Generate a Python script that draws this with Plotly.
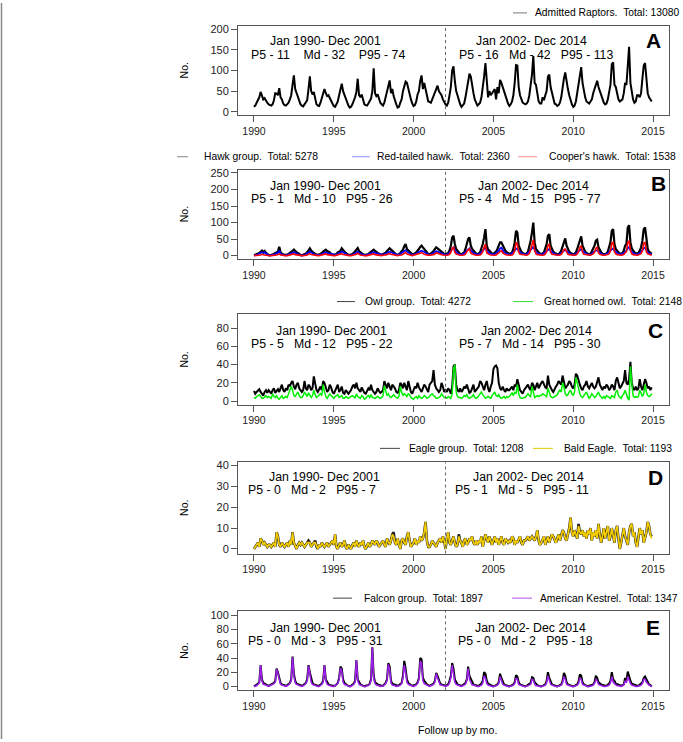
"""
Monthly admissions of raptors, Jan 1990 - Dec 2014, five stacked panels
(all raptors, hawks, owls, eagles, falcons).
"""
import plotly.graph_objects as go
from plotly.subplots import make_subplots

W, H = 683, 742
FONT = "Liberation Sans, Arial, sans-serif"

years = list(range(1990, 2015))
year_ticks = [1990, 1995, 2000, 2005, 2010, 2015]
period_break = 2002

# ---- monthly counts, one row per year (Jan..Dec) ----
admitted = [
    [12, 15, 22, 28, 35, 48, 40, 30, 33, 26, 22, 18],
    [16, 15, 18, 28, 45, 44, 40, 57, 35, 30, 20, 16],
    [15, 18, 22, 30, 40, 65, 88, 55, 45, 40, 25, 18],
    [15, 13, 18, 25, 28, 55, 86, 50, 42, 48, 28, 18],
    [15, 14, 22, 35, 48, 55, 45, 38, 40, 32, 24, 20],
    [14, 12, 18, 25, 40, 55, 68, 50, 40, 30, 20, 15],
    [10, 12, 18, 26, 35, 48, 80, 40, 35, 42, 28, 18],
    [16, 15, 20, 28, 32, 50, 105, 45, 38, 42, 28, 22],
    [18, 15, 22, 35, 48, 65, 76, 45, 55, 38, 25, 18],
    [10, 12, 22, 30, 50, 65, 73, 70, 55, 45, 30, 20],
    [14, 16, 25, 42, 50, 75, 88, 55, 70, 55, 40, 25],
    [24, 22, 30, 40, 45, 55, 63, 50, 45, 40, 30, 22],
    [18, 15, 22, 40, 60, 100, 110, 75, 50, 40, 25, 18],
    [12, 15, 20, 35, 55, 80, 92, 85, 60, 45, 30, 20],
    [15, 18, 22, 35, 55, 85, 118, 70, 35, 50, 40, 45],
    [50, 55, 30, 60, 45, 77, 70, 60, 45, 35, 25, 20],
    [14, 18, 25, 40, 70, 113, 112, 60, 40, 30, 22, 20],
    [18, 20, 25, 40, 60, 90, 135, 70, 65, 40, 25, 20],
    [20, 35, 28, 40, 50, 85, 90, 60, 45, 30, 20, 18],
    [14, 16, 22, 35, 60, 80, 95, 70, 55, 40, 25, 18],
    [12, 15, 25, 45, 60, 85, 108, 70, 50, 35, 25, 22],
    [20, 25, 30, 45, 55, 70, 75, 60, 50, 40, 30, 22],
    [18, 20, 30, 45, 65, 115, 120, 65, 60, 45, 30, 25],
    [28, 30, 45, 70, 65, 105, 157, 70, 45, 30, 22, 25],
    [40, 40, 35, 45, 80, 112, 118, 70, 45, 35, 28, 25],
]

hawk_group = [
    [1, 2, 4, 6, 8, 12, 15, 10, 14, 8, 4, 2],
    [1, 2, 3, 5, 8, 10, 12, 27, 10, 6, 3, 2],
    [2, 3, 5, 8, 10, 14, 18, 12, 10, 8, 4, 2],
    [1, 2, 4, 6, 10, 15, 22, 15, 10, 8, 5, 3],
    [2, 3, 5, 8, 12, 16, 18, 14, 12, 10, 5, 3],
    [2, 3, 5, 10, 12, 14, 22, 15, 12, 8, 4, 2],
    [2, 3, 5, 8, 12, 16, 23, 14, 10, 8, 4, 2],
    [2, 3, 5, 8, 12, 15, 18, 14, 12, 8, 5, 3],
    [3, 4, 6, 9, 14, 18, 22, 18, 14, 10, 6, 3],
    [3, 4, 8, 12, 18, 28, 35, 20, 15, 12, 8, 4],
    [5, 6, 10, 14, 20, 26, 30, 25, 20, 15, 8, 5],
    [4, 6, 10, 14, 20, 25, 22, 18, 15, 12, 8, 5],
    [4, 5, 8, 15, 30, 55, 60, 35, 20, 15, 8, 5],
    [4, 6, 10, 20, 35, 50, 55, 30, 20, 15, 10, 6],
    [5, 6, 10, 20, 35, 55, 80, 30, 18, 15, 10, 6],
    [5, 8, 12, 20, 30, 40, 40, 30, 20, 15, 10, 6],
    [5, 6, 10, 20, 40, 75, 70, 30, 18, 12, 8, 5],
    [5, 6, 12, 25, 45, 70, 100, 40, 20, 15, 10, 6],
    [5, 6, 10, 20, 35, 60, 65, 30, 18, 12, 8, 5],
    [4, 5, 8, 15, 30, 45, 52, 30, 18, 12, 8, 5],
    [4, 5, 10, 20, 35, 50, 58, 30, 18, 12, 8, 5],
    [4, 5, 12, 20, 30, 45, 48, 25, 15, 10, 6, 4],
    [5, 6, 12, 25, 40, 75, 80, 35, 20, 15, 10, 6],
    [6, 8, 15, 30, 35, 85, 92, 40, 22, 15, 10, 6],
    [6, 8, 15, 25, 45, 80, 85, 40, 20, 12, 8, 5],
]

red_tailed = [
    [1, 1, 2, 4, 6, 8, 10, 8, 10, 6, 3, 1],
    [1, 1, 2, 3, 5, 6, 8, 15, 6, 4, 2, 1],
    [1, 2, 3, 5, 6, 8, 10, 8, 6, 5, 3, 1],
    [1, 1, 2, 4, 6, 8, 12, 10, 6, 5, 3, 2],
    [1, 2, 3, 5, 8, 10, 10, 8, 7, 6, 3, 2],
    [1, 2, 3, 6, 8, 9, 12, 10, 7, 5, 3, 1],
    [1, 2, 3, 5, 7, 10, 12, 8, 6, 5, 2, 1],
    [1, 2, 3, 5, 7, 9, 10, 8, 7, 5, 3, 2],
    [2, 2, 4, 5, 8, 10, 12, 10, 8, 6, 4, 2],
    [2, 3, 5, 7, 10, 14, 16, 12, 9, 7, 5, 2],
    [3, 4, 6, 8, 11, 14, 15, 13, 11, 8, 5, 3],
    [2, 3, 6, 8, 11, 13, 12, 10, 8, 7, 5, 3],
    [2, 3, 5, 8, 14, 22, 25, 18, 10, 8, 5, 3],
    [2, 4, 6, 10, 15, 20, 22, 15, 10, 8, 6, 4],
    [3, 4, 6, 10, 15, 20, 25, 15, 10, 8, 6, 4],
    [3, 5, 7, 10, 15, 22, 24, 15, 10, 8, 6, 4],
    [3, 4, 6, 10, 15, 22, 20, 14, 10, 7, 5, 3],
    [3, 4, 7, 12, 18, 22, 26, 18, 10, 8, 6, 4],
    [3, 4, 6, 10, 14, 18, 20, 14, 10, 7, 5, 3],
    [2, 3, 5, 8, 12, 16, 18, 14, 10, 7, 5, 3],
    [2, 3, 6, 10, 14, 18, 20, 14, 10, 7, 5, 3],
    [2, 3, 6, 10, 13, 16, 16, 12, 9, 6, 4, 2],
    [3, 4, 7, 12, 16, 20, 22, 15, 10, 8, 6, 4],
    [4, 5, 8, 12, 15, 22, 26, 16, 11, 8, 6, 4],
    [3, 5, 8, 12, 16, 22, 24, 16, 10, 7, 5, 3],
]

coopers = [
    [0, 0, 0, 1, 1, 2, 4, 2, 2, 1, 0, 0],
    [0, 0, 0, 1, 1, 2, 3, 5, 2, 1, 0, 0],
    [0, 0, 1, 1, 2, 3, 5, 3, 2, 1, 0, 0],
    [0, 0, 0, 1, 2, 4, 6, 3, 2, 1, 1, 0],
    [0, 0, 1, 1, 2, 4, 5, 3, 2, 2, 1, 0],
    [0, 0, 1, 1, 2, 3, 6, 3, 2, 1, 0, 0],
    [0, 0, 1, 1, 2, 4, 7, 3, 2, 1, 0, 0],
    [0, 0, 1, 1, 2, 3, 5, 3, 2, 1, 1, 0],
    [0, 1, 1, 2, 3, 5, 6, 4, 3, 2, 1, 0],
    [0, 1, 1, 2, 4, 8, 10, 5, 3, 2, 1, 0],
    [1, 1, 2, 3, 5, 7, 9, 6, 4, 3, 1, 1],
    [1, 1, 2, 3, 5, 8, 7, 5, 4, 3, 2, 1],
    [1, 1, 2, 4, 10, 22, 25, 10, 5, 3, 2, 1],
    [1, 1, 2, 5, 12, 18, 20, 8, 5, 3, 2, 1],
    [1, 1, 2, 5, 12, 25, 35, 8, 4, 3, 2, 1],
    [1, 1, 2, 4, 8, 12, 15, 8, 5, 3, 2, 1],
    [1, 1, 2, 5, 15, 40, 35, 10, 4, 3, 2, 1],
    [1, 1, 3, 6, 18, 35, 48, 15, 5, 3, 2, 1],
    [1, 1, 2, 5, 12, 30, 35, 10, 4, 3, 2, 1],
    [1, 1, 2, 4, 10, 18, 20, 10, 4, 3, 2, 1],
    [1, 1, 2, 5, 12, 25, 30, 10, 4, 3, 2, 1],
    [1, 1, 3, 5, 10, 22, 25, 8, 4, 2, 1, 1],
    [1, 1, 3, 6, 15, 38, 40, 12, 5, 3, 2, 1],
    [1, 2, 3, 8, 12, 40, 45, 15, 5, 3, 2, 1],
    [1, 2, 3, 6, 15, 38, 40, 12, 5, 3, 2, 1],
]

owl_group = [
    [11, 8, 10, 12, 13, 10, 8, 6, 10, 12, 9, 12],
    [10, 8, 12, 14, 9, 11, 13, 10, 15, 18, 12, 10],
    [14, 12, 18, 16, 20, 22, 16, 13, 18, 20, 14, 12],
    [10, 12, 22, 14, 12, 18, 16, 12, 14, 27, 18, 12],
    [10, 14, 16, 12, 22, 20, 14, 10, 12, 18, 15, 10],
    [8, 12, 14, 18, 10, 12, 16, 9, 8, 12, 10, 8],
    [10, 12, 16, 18, 14, 20, 14, 12, 10, 15, 12, 9],
    [8, 11, 14, 12, 18, 12, 10, 8, 10, 14, 11, 9],
    [10, 12, 22, 18, 14, 20, 15, 12, 18, 16, 14, 10],
    [9, 12, 20, 18, 14, 20, 16, 12, 22, 15, 10, 8],
    [12, 16, 14, 20, 15, 12, 10, 14, 18, 16, 12, 10],
    [18, 20, 22, 34, 18, 14, 12, 10, 12, 20, 16, 10],
    [12, 10, 14, 12, 8, 16, 38, 40, 18, 12, 10, 14],
    [10, 12, 16, 14, 18, 12, 9, 10, 14, 18, 10, 12],
    [14, 16, 22, 20, 16, 12, 18, 22, 14, 10, 16, 20],
    [35, 38, 39, 36, 20, 14, 12, 16, 12, 10, 14, 12],
    [12, 14, 16, 12, 18, 16, 24, 18, 12, 10, 8, 12],
    [14, 16, 18, 14, 12, 20, 18, 12, 16, 20, 14, 18],
    [20, 22, 18, 15, 14, 28, 18, 14, 12, 10, 14, 16],
    [18, 22, 20, 18, 28, 20, 14, 16, 18, 22, 20, 16],
    [14, 18, 30, 28, 22, 18, 14, 12, 16, 18, 22, 16],
    [14, 18, 20, 16, 14, 16, 20, 26, 18, 14, 12, 16],
    [14, 18, 16, 12, 14, 18, 16, 12, 22, 26, 18, 14],
    [16, 20, 22, 34, 20, 18, 24, 43, 20, 14, 12, 16],
    [12, 14, 24, 16, 12, 18, 24, 20, 14, 16, 12, 15],
]

great_horned = [
    [4, 3, 5, 6, 7, 5, 3, 3, 4, 6, 4, 5],
    [4, 3, 8, 5, 4, 6, 3, 2, 4, 6, 3, 4],
    [5, 4, 8, 10, 16, 12, 6, 5, 8, 10, 6, 4],
    [4, 6, 10, 8, 5, 9, 6, 4, 6, 12, 7, 4],
    [5, 7, 8, 6, 18, 10, 5, 3, 5, 8, 6, 4],
    [3, 5, 6, 7, 4, 5, 6, 3, 3, 5, 4, 3],
    [4, 5, 6, 5, 3, 8, 5, 4, 3, 6, 5, 2],
    [3, 5, 6, 4, 7, 4, 3, 3, 4, 5, 4, 3],
    [4, 6, 17, 10, 6, 8, 5, 4, 6, 7, 5, 4],
    [3, 5, 16, 10, 6, 8, 7, 5, 8, 7, 4, 3],
    [2, 4, 5, 3, 6, 4, 3, 4, 6, 5, 3, 4],
    [5, 7, 8, 6, 5, 3, 3, 4, 5, 8, 6, 4],
    [4, 3, 5, 4, 3, 8, 35, 40, 10, 5, 4, 4],
    [3, 4, 6, 5, 7, 4, 3, 4, 5, 7, 4, 3],
    [4, 6, 8, 10, 7, 5, 3, 4, 5, 4, 3, 6],
    [8, 10, 6, 5, 7, 4, 3, 4, 5, 3, 5, 4],
    [5, 7, 9, 6, 10, 8, 18, 8, 4, 3, 3, 4],
    [4, 6, 8, 6, 5, 16, 10, 4, 5, 6, 5, 6],
    [6, 8, 7, 6, 5, 14, 8, 5, 4, 4, 5, 6],
    [7, 10, 12, 10, 20, 16, 8, 6, 7, 10, 12, 8],
    [6, 10, 26, 20, 12, 8, 5, 4, 6, 8, 10, 6],
    [3, 5, 8, 6, 4, 5, 8, 10, 6, 4, 3, 5],
    [3, 6, 5, 4, 3, 6, 5, 4, 10, 12, 6, 4],
    [3, 6, 8, 12, 6, 3, 1, 38, 20, 6, 4, 5],
    [4, 5, 12, 8, 5, 8, 18, 10, 6, 5, 6, 8],
]

eagle_group = [
    [0, 1, 2, 3, 1, 5, 4, 2, 3, 2, 1, 2],
    [2, 1, 2, 3, 1, 8, 6, 2, 1, 3, 2, 1],
    [2, 3, 1, 4, 2, 8, 3, 1, 0, 2, 3, 2],
    [3, 2, 1, 2, 3, 4, 3, 1, 2, 3, 4, 1],
    [0, 2, 1, 3, 2, 1, 2, 3, 1, 2, 3, 4],
    [2, 7, 1, 0, 2, 3, 1, 2, 4, 1, 0, 2],
    [1, 0, 2, 3, 1, 4, 2, 1, 3, 2, 4, 1],
    [0, 2, 3, 1, 2, 4, 3, 2, 4, 3, 1, 2],
    [3, 4, 2, 1, 5, 3, 2, 4, 7, 8, 3, 2],
    [5, 2, 0, 4, 5, 3, 2, 6, 8, 4, 1, 2],
    [3, 5, 2, 4, 3, 6, 4, 5, 8, 13, 4, 1],
    [1, 2, 4, 3, 2, 1, 3, 4, 5, 3, 6, 4],
    [0, 5, 8, 3, 2, 4, 6, 3, 1, 2, 7, 4],
    [3, 1, 4, 5, 2, 3, 5, 4, 6, 3, 2, 4],
    [2, 4, 3, 6, 1, 4, 7, 5, 3, 6, 4, 2],
    [4, 6, 3, 5, 2, 4, 6, 3, 2, 5, 4, 3],
    [4, 3, 6, 5, 2, 4, 3, 5, 6, 3, 2, 4],
    [4, 5, 6, 4, 5, 6, 5, 4, 6, 9, 4, 2],
    [3, 5, 6, 2, 4, 6, 3, 5, 7, 6, 4, 3],
    [5, 7, 4, 6, 9, 8, 5, 4, 7, 10, 15, 8],
    [6, 9, 7, 5, 12, 8, 7, 9, 6, 8, 5, 9],
    [7, 10, 4, 8, 6, 9, 5, 12, 7, 3, 6, 10],
    [5, 8, 11, 4, 6, 10, 7, 3, 9, 11, 5, 0],
    [3, 7, 10, 6, 4, 2, 8, 11, 12, 6, 8, 3],
    [1, 6, 10, 7, 9, 3, 5, 8, 13, 11, 7, 6],
]

bald_eagle = [
    [0, 1, 2, 3, 1, 5, 4, 2, 3, 2, 1, 2],
    [2, 1, 2, 3, 1, 8, 6, 2, 1, 3, 2, 1],
    [2, 3, 1, 4, 2, 8, 3, 1, 0, 2, 3, 2],
    [3, 2, 1, 2, 3, 3, 3, 1, 2, 3, 3, 1],
    [0, 2, 1, 3, 2, 1, 2, 3, 1, 2, 3, 4],
    [2, 7, 1, 0, 2, 3, 1, 2, 4, 1, 0, 2],
    [1, 0, 2, 3, 1, 4, 2, 1, 3, 2, 4, 1],
    [0, 2, 3, 1, 2, 4, 3, 2, 4, 3, 1, 2],
    [3, 4, 2, 1, 5, 3, 2, 4, 7, 6, 3, 2],
    [5, 2, 0, 4, 5, 3, 2, 6, 8, 4, 1, 2],
    [3, 5, 2, 4, 3, 6, 4, 5, 8, 13, 4, 1],
    [1, 2, 4, 3, 2, 1, 3, 4, 5, 3, 6, 4],
    [0, 5, 8, 3, 2, 4, 6, 3, 1, 2, 6, 4],
    [3, 1, 4, 5, 2, 3, 5, 4, 6, 3, 2, 4],
    [2, 4, 3, 6, 1, 4, 7, 5, 3, 6, 4, 2],
    [4, 6, 3, 5, 2, 4, 6, 3, 2, 5, 4, 3],
    [4, 3, 6, 5, 2, 4, 3, 5, 6, 3, 2, 4],
    [4, 5, 6, 4, 5, 6, 5, 4, 6, 9, 4, 2],
    [3, 5, 6, 2, 4, 6, 3, 5, 7, 6, 4, 3],
    [5, 7, 4, 6, 9, 8, 5, 4, 7, 10, 15, 8],
    [6, 9, 7, 5, 11, 8, 7, 9, 6, 8, 5, 9],
    [7, 10, 4, 8, 6, 9, 5, 12, 7, 3, 6, 10],
    [5, 8, 11, 4, 6, 10, 7, 3, 9, 11, 5, 0],
    [3, 7, 10, 6, 4, 2, 8, 11, 12, 6, 8, 3],
    [1, 6, 10, 7, 9, 3, 5, 8, 13, 11, 7, 5],
]

falcon_group = [
    [0, 1, 2, 4, 6, 30, 10, 5, 4, 3, 2, 1],
    [2, 3, 3, 5, 8, 25, 20, 12, 5, 3, 2, 1],
    [1, 2, 3, 5, 10, 42, 18, 8, 4, 3, 2, 1],
    [1, 2, 3, 5, 10, 30, 20, 10, 5, 3, 2, 1],
    [1, 1, 2, 4, 8, 30, 10, 5, 3, 2, 1, 1],
    [1, 1, 3, 5, 12, 28, 25, 10, 5, 3, 2, 1],
    [0, 1, 2, 4, 8, 37, 10, 5, 3, 2, 1, 0],
    [1, 1, 2, 4, 10, 55, 15, 6, 4, 3, 2, 1],
    [1, 1, 3, 5, 10, 33, 28, 8, 4, 3, 2, 1],
    [1, 2, 3, 5, 15, 36, 25, 10, 5, 3, 2, 1],
    [1, 2, 3, 6, 12, 40, 38, 12, 8, 5, 3, 2],
    [1, 2, 3, 4, 8, 19, 15, 8, 4, 3, 2, 1],
    [1, 2, 3, 8, 15, 33, 25, 10, 5, 3, 2, 1],
    [1, 2, 3, 5, 10, 28, 15, 10, 5, 3, 2, 1],
    [1, 1, 2, 4, 8, 20, 18, 8, 4, 3, 2, 1],
    [0, 1, 2, 3, 6, 18, 12, 6, 3, 2, 1, 1],
    [0, 1, 2, 3, 6, 16, 14, 6, 3, 2, 1, 0],
    [0, 1, 2, 3, 5, 13, 12, 6, 3, 2, 1, 0],
    [0, 1, 2, 3, 8, 20, 12, 6, 3, 2, 1, 0],
    [0, 1, 2, 3, 8, 19, 15, 6, 3, 2, 1, 0],
    [0, 1, 2, 3, 7, 17, 15, 6, 3, 2, 1, 0],
    [1, 1, 2, 3, 6, 15, 12, 6, 4, 3, 2, 1],
    [1, 1, 2, 4, 8, 20, 10, 8, 4, 3, 2, 1],
    [1, 2, 3, 12, 8, 21, 12, 8, 4, 3, 2, 1],
    [1, 1, 2, 4, 6, 12, 14, 10, 5, 3, 2, 0],
]

kestrel = [
    [0, 0, 1, 3, 5, 30, 8, 3, 3, 2, 1, 0],
    [1, 2, 2, 4, 6, 24, 18, 8, 3, 2, 1, 0],
    [0, 1, 2, 4, 8, 41, 15, 5, 3, 2, 1, 0],
    [0, 1, 2, 4, 8, 29, 18, 6, 3, 2, 1, 0],
    [0, 0, 1, 3, 6, 30, 8, 3, 2, 1, 1, 0],
    [0, 1, 2, 4, 10, 26, 22, 6, 3, 2, 1, 0],
    [0, 0, 1, 3, 6, 37, 8, 3, 2, 1, 0, 0],
    [0, 1, 1, 3, 8, 55, 12, 4, 2, 2, 1, 0],
    [0, 1, 2, 4, 8, 31, 24, 5, 2, 2, 1, 0],
    [0, 1, 2, 4, 12, 30, 20, 6, 3, 2, 1, 0],
    [0, 1, 2, 4, 10, 36, 32, 8, 4, 3, 2, 1],
    [0, 1, 2, 3, 6, 18, 12, 5, 2, 2, 1, 0],
    [0, 1, 2, 5, 12, 30, 20, 6, 3, 2, 1, 0],
    [0, 1, 2, 3, 8, 25, 10, 5, 2, 2, 1, 0],
    [0, 0, 1, 2, 5, 15, 12, 4, 2, 1, 1, 0],
    [0, 0, 1, 2, 4, 14, 8, 3, 2, 1, 0, 0],
    [0, 0, 1, 2, 4, 12, 10, 3, 2, 1, 0, 0],
    [0, 0, 1, 2, 3, 10, 9, 3, 1, 1, 0, 0],
    [0, 0, 1, 2, 5, 15, 8, 3, 2, 1, 0, 0],
    [0, 0, 1, 2, 5, 14, 10, 3, 2, 1, 0, 0],
    [0, 0, 1, 2, 4, 12, 10, 3, 2, 1, 0, 0],
    [0, 0, 1, 2, 4, 10, 8, 3, 2, 1, 1, 0],
    [0, 0, 1, 2, 5, 14, 6, 4, 2, 1, 1, 0],
    [0, 1, 2, 8, 5, 14, 8, 4, 2, 1, 1, 0],
    [0, 0, 1, 2, 4, 10, 10, 6, 3, 2, 1, 0],
]

# ---- text ----
period_titles = ["Jan 1990- Dec 2001", "Jan 2002- Dec 2014"]
panel_letters = ["A", "B", "C", "D", "E"]
stats_early = ["P5 - 11    Md - 32    P95 - 74", "P5 - 1   Md - 10   P95 - 26",
               "P5 - 5   Md - 12   P95 - 22", "P5 - 0   Md - 2   P95 - 7",
               "P5 - 0   Md - 3   P95 - 31"]
stats_late = ["P5 - 16   Md - 42   P95 - 113", "P5 - 4   Md - 15   P95 - 77",
              "P5 - 7   Md - 14   P95 - 30", "P5 - 1   Md - 5   P95 - 11",
              "P5 - 0   Md - 2   P95 - 18"]
legend_labels = [
    ["Admitted Raptors.  Total: 13080"],
    ["Hawk group.  Total: 5278", "Red-tailed hawk.  Total: 2360",
     "Cooper's hawk.  Total: 1538"],
    ["Owl group.  Total: 4272", "Great horned owl.  Total: 2148"],
    ["Eagle group.  Total: 1208", "Bald Eagle.  Total: 1193"],
    ["Falcon group.  Total: 1897", "American Kestrel.  Total: 1347"],
]
y_max = [200, 250, 80, 40, 100]
y_step = [50, 50, 20, 10, 20]


def monthly(rows):
    return [v for row in rows for v in row]


def px_x(x):
    return x / W


def px_y(y):
    return 1 - y / H


x_month = [y + m / 12 for y in years for m in range(12)]

# (series, colour, width) per panel
panels = [
    [(admitted, "black", 2)],
    [(hawk_group, "black", 2.2), (red_tailed, "#0000ff", 1.8),
     (coopers, "#ff0000", 1.6)],
    [(owl_group, "black", 2), (great_horned, "#00ee00", 1.5)],
    [(eagle_group, "#222222", 2.6), (bald_eagle, "#f2cc00", 1.7)],
    [(falcon_group, "black", 2), (kestrel, "#a020f0", 1.5)],
]
legend_colors = [["#777777"], ["#888888", "#9090ff", "#ff9090"],
                 ["#444444", "#33dd33"], ["#444444", "#e8c800"],
                 ["#444444", "#b050f0"]]

# layout geometry in reference pixels
box_x = (238, 669)
box_y = [(23, 113), (168, 258), (314, 405), (463, 555), (613, 693)]
y_lo = [-8, -10, -4, -2.2, -5.5]
y_hi = [208, 260, 95, 41.6, 106]
text_pos = [  # (left1, left2, right1, right2, letter) centres
    [(325, 38), (328, 52), (531, 38), (536, 52), (653, 38)],
    [(325, 184), (322, 198), (533, 184), (530, 198), (658, 182)],
    [(331, 331), (322, 344), (536, 331), (530, 344), (655, 330)],
    [(324, 478), (312, 491), (528, 478), (522, 491), (655, 478)],
    [(325, 630), (315, 643), (530, 630), (525, 643), (653, 630)],
]
legend_pos = [
    (10, [(513, 527, 533)]),
    (155, [(177, 188, 202), (352, 370, 375), (518, 537, 547)]),
    (301, [(337, 355, 363), (513, 533, 542)]),
    (449, [(380, 400, 407), (533, 553, 562)]),
    (600, [(333, 352, 362), (512, 532, 538)]),
]

fig = make_subplots(rows=5, cols=1)
annotations = []
shapes = []


def ann(text, x, y, size, bold=False, xanchor="center", angle=0):
    if bold:
        text = "<b>" + text + "</b>"
    annotations.append(dict(text=text.replace("  ", "\u00a0\u00a0"),
                            x=px_x(x), y=px_y(y), xref="paper",
                            yref="paper", showarrow=False,
                            xanchor=xanchor, yanchor="middle",
                            textangle=angle,
                            font=dict(family=FONT, size=size,
                                      color="black")))


for i, series in enumerate(panels):
    row = i + 1
    for values, color, width in series:
        fig.add_trace(go.Scatter(x=x_month, y=monthly(values), mode="lines",
                                 line=dict(color=color, width=width),
                                 showlegend=False, hoverinfo="skip"),
                      row=row, col=1)
    fig.add_vline(x=period_break, line=dict(color="#666666", width=1,
                                            dash="dot"), row=row, col=1)
    top, bottom = box_y[i]
    fig.update_xaxes(domain=[px_x(box_x[0]), px_x(box_x[1])],
                     range=[1989, 2016], tickvals=year_ticks,
                     row=row, col=1)
    fig.update_yaxes(domain=[px_y(bottom), px_y(top)],
                     range=[y_lo[i], y_hi[i]],
                     tickvals=list(range(0, y_max[i] + 1, y_step[i])),
                     row=row, col=1)
    p = text_pos[i]
    ann(period_titles[0], *p[0], 12.3)
    ann(stats_early[i], *p[1], 12.3)
    ann(period_titles[1], *p[2], 12.3)
    ann(stats_late[i], *p[3], 12.3)
    ann(panel_letters[i], *p[4], 21, bold=True)
    ann("No.", 184, (top + bottom) / 2, 10.5, angle=-90)
    ly, items = legend_pos[i]
    for (x0, x1, tx), label, lc in zip(items, legend_labels[i],
                                       legend_colors[i]):
        shapes.append(dict(type="line", xref="paper", yref="paper",
                           x0=px_x(x0), x1=px_x(x1), y0=px_y(ly),
                           y1=px_y(ly), line=dict(color=lc, width=1)))
        ann(label, tx, ly, 10.3, xanchor="left")

ann("Follow up by mo.", 457, 733, 10.5)

# thin rule at the far left edge of the figure
shapes.append(dict(type="line", xref="paper", yref="paper", x0=px_x(1.5),
                   x1=px_x(1.5), y0=0, y1=1,
                   line=dict(color="#888888", width=1.5)))

fig.update_xaxes(showgrid=False, zeroline=False, showline=True, mirror=True,
                 linecolor="#555555", linewidth=1, ticks="outside",
                 ticklen=6, tickcolor="#555555",
                 tickfont=dict(family=FONT, size=10.5, color="#222222"))
fig.update_yaxes(showgrid=False, zeroline=False, showline=True, mirror=True,
                 linecolor="#555555", linewidth=1, ticks="outside",
                 ticklen=6, tickcolor="#555555",
                 tickfont=dict(family=FONT, size=11, color="#222222"))

fig.update_layout(width=W, height=H, margin=dict(l=0, r=0, t=0, b=0),
                  paper_bgcolor="white", plot_bgcolor="white",
                  annotations=fig.layout.annotations + tuple(annotations),
                  shapes=fig.layout.shapes + tuple(shapes),
                  font=dict(family=FONT), hovermode=False)

# the page's default 8px body margin would push the figure off the window
fig.write_html("out.html", config={"displayModeBar": False},
               post_script="document.body.style.margin='0px';")
